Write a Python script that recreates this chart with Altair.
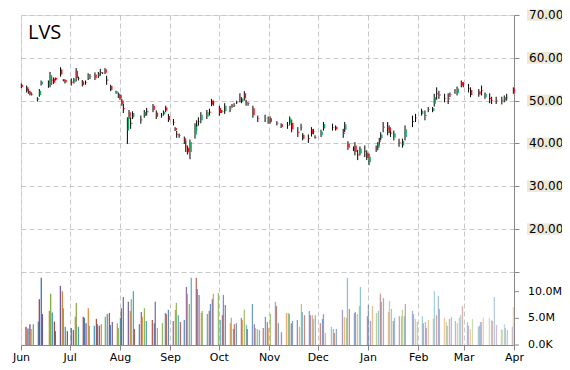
import altair as alt
import pandas as pd

# ---------------- data (days counted from 1 Jun) ----------------
c_day = [0.2, 3.5, 4.5, 5.5, 6.6, 10.1, 11.3, 12.4, 16.9, 17.9, 18.9, 20.0, 21.2, 24.4, 26.1, 27.1, 31.0, 32.6, 34.0, 35.4,
         37.8, 39.8, 41.4, 42.5, 45.6, 47.7, 48.9, 50.2, 51.8, 52.8, 55.3, 58.6, 60.0, 61.0, 62.2, 63.1, 65.6, 66.6, 67.6, 68.8,
         73.9, 76.0,
         77.5, 81.4, 83.4, 86.6, 87.8, 89.2, 90.9, 94.0, 95.0, 96.0, 97.5, 100.7, 101.6, 102.6, 104.2, 107.3, 108.3, 109.4, 110.9, 114.6,
         116.2, 117.5, 118.6, 122.3, 123.8, 125.6, 128.9, 130.1, 131.4, 133.0, 135.0, 136.0, 137.7, 138.8, 140.0, 143.0, 146.0, 150.5, 152.4,
         153.6, 157.8, 160.4, 164.3, 165.7, 166.9, 170.7, 172.7, 173.7, 177.2, 179.1, 180.3, 181.3, 185.0, 186.5, 192.1, 194.0, 198.7, 199.6, 201.6,
         205.0, 205.9, 207.6, 209.0, 212.0, 213.2, 214.6, 219.0, 220.0, 220.9, 221.8, 223.3, 226.1, 227.0, 227.8, 229.9,
         233.1, 235.2, 236.8, 241.4, 243.3, 247.0, 249.1, 251.1, 253.8, 254.8, 256.3, 257.7, 261.2, 263.4, 264.5, 267.6, 268.9, 271.5, 272.7, 276.0,
         277.2, 282.3, 284.0, 286.1, 289.0, 290.2, 293.0, 296.5, 298.0, 299.5, 303.6]
c_open = [53.7, 53.1, 52.2, 52.0, 51.5, 50.2, 51.3, 53.8, 53.4, 53.9, 54.9, 55.1, 55.3, 57.3, 54.8, 54.8, 54.4, 54.3, 57.0, 55.2,
          54.5, 54.2, 55.2, 55.7, 56.1, 55.7, 56.7, 56.5, 57.3, 54.9, 53.4, 51.7, 51.3, 51.3, 50.0, 48.2, 43.0, 47.3, 44.8, 46.1,
          45.6, 46.4,
          47.5, 48.8, 47.2, 46.6, 46.8, 48.4, 46.4, 45.0, 43.6, 42.2, 41.9, 41.2, 39.4, 39.0, 38.0, 42.0, 44.2, 45.2, 45.4, 46.2,
          47.4, 50.0, 49.5, 48.3, 47.5, 47.5, 48.1, 48.8, 49.0, 49.7, 50.7, 49.7, 51.7, 49.6, 49.3, 48.2, 45.8, 45.9, 45.0,
          45.9, 44.7, 44.5, 44.2, 44.7, 44.8, 42.7, 43.8, 42.0, 41.2, 43.3, 42.8, 41.5, 41.9, 43.5, 43.8, 43.9, 42.4, 43.2, 40.0,
          38.8, 39.5, 37.4, 37.7, 38.2, 37.8, 35.6, 38.8, 38.9, 40.5, 41.2, 43.9, 43.5, 43.8, 42.5, 41.3,
          40.2, 39.5, 41.5, 45.2, 46.0, 46.9, 46.6, 47.9, 47.6, 49.3, 51.7, 51.4, 50.6, 50.5, 51.4, 52.2, 51.7, 54.3, 53.7, 52.9,
          52.5, 52.2, 52.4, 50.8, 50.6, 50.1, 50.1, 50.0, 50.0, 50.8, 52.8]
c_high = [54.0, 53.5, 52.7, 52.3, 51.7, 50.8, 52.7, 54.7, 54.7, 56.7, 55.8, 55.4, 55.4, 57.8, 55.0, 55.0, 55.2, 55.3, 57.6, 55.6,
          54.8, 54.7, 56.4, 56.2, 56.6, 56.7, 57.4, 56.6, 57.6, 55.8, 53.7, 52.3, 51.9, 51.6, 50.4, 49.2, 46.1, 47.8, 46.1, 47.5,
          46.5, 47.8,
          48.3, 49.2, 47.7, 47.1, 47.7, 48.8, 46.9, 45.7, 43.8, 42.9, 42.3, 41.6, 40.7, 39.5, 40.9, 44.7, 45.4, 46.1, 47.3, 47.8,
          48.1, 50.4, 50.0, 48.8, 47.8, 49.4, 48.8, 49.2, 49.4, 50.0, 51.7, 50.8, 52.2, 50.2, 49.6, 48.8, 46.5, 46.7, 46.3,
          46.3, 45.2, 44.7, 45.0, 46.3, 45.5, 43.8, 44.6, 42.4, 42.1, 43.8, 43.4, 41.9, 43.2, 45.0, 44.6, 44.2, 43.4, 45.0, 40.5,
          39.3, 40.3, 38.5, 39.3, 39.5, 38.4, 37.6, 39.5, 40.3, 41.3, 42.6, 45.0, 45.0, 44.2, 43.4, 43.0,
          41.1, 41.1, 44.2, 46.5, 46.9, 48.1, 47.7, 48.5, 48.5, 51.6, 53.1, 52.3, 51.6, 51.7, 51.9, 52.7, 53.3, 54.7, 54.3, 53.9,
          53.1, 52.7, 53.5, 51.9, 51.7, 50.9, 50.9, 50.9, 51.2, 51.6, 53.1]
c_low = [52.9, 51.9, 51.6, 51.2, 51.2, 49.8, 50.9, 53.5, 53.0, 53.1, 53.7, 53.9, 54.7, 55.6, 54.5, 54.0, 53.5, 54.0, 54.5, 54.7,
         53.3, 53.7, 54.8, 55.0, 54.8, 55.3, 55.8, 56.2, 56.2, 53.7, 52.2, 51.6, 50.6, 50.2, 48.8, 47.1, 39.9, 45.7, 43.4, 45.7,
         44.6, 46.0,
         46.5, 47.3, 45.7, 46.0, 46.5, 47.3, 45.0, 44.2, 42.9, 41.3, 41.3, 39.9, 38.0, 37.4, 36.3, 41.1, 42.9, 44.2, 44.7, 45.7,
         46.5, 48.7, 48.8, 46.5, 47.1, 46.9, 47.3, 48.3, 48.5, 49.2, 49.6, 49.4, 50.0, 48.8, 48.8, 46.0, 45.0, 45.0, 44.6,
         44.6, 44.2, 43.6, 43.4, 44.2, 42.6, 41.5, 43.0, 40.7, 40.1, 41.6, 42.1, 41.1, 41.5, 43.0, 43.0, 43.0, 41.3, 42.6, 38.5,
         38.2, 37.2, 36.1, 37.2, 36.8, 36.1, 34.9, 38.0, 38.4, 39.5, 40.7, 42.6, 41.9, 42.4, 41.5, 40.7,
         39.2, 39.0, 40.7, 43.8, 45.0, 46.5, 45.4, 47.3, 47.3, 48.6, 50.2, 50.4, 49.6, 49.2, 50.8, 51.6, 51.2, 53.1, 53.1, 51.9,
         50.8, 50.9, 51.2, 50.4, 49.4, 49.2, 49.2, 49.1, 49.6, 50.0, 51.6]
c_close = [53.2, 52.3, 52.1, 51.5, 51.4, 50.5, 52.3, 54.4, 54.3, 56.0, 54.7, 54.2, 54.9, 56.1, 54.7, 54.3, 54.2, 55.0, 55.3, 55.1,
           53.6, 54.1, 56.0, 55.6, 55.2, 56.4, 56.5, 56.4, 56.5, 54.7, 52.5, 52.2, 51.2, 50.5, 49.2, 48.0, 46.0, 46.2, 44.6, 47.1,
           45.4, 47.4,
           47.3, 47.8, 46.2, 46.5, 47.4, 47.7, 45.4, 44.9, 43.1, 42.0, 41.8, 40.3, 39.2, 37.9, 40.3, 44.0, 44.0, 45.1, 46.7, 47.3,
           47.2, 49.1, 49.4, 47.1, 47.4, 48.8, 48.0, 48.7, 48.9, 49.6, 50.5, 50.5, 50.5, 49.5, 49.2, 46.6, 45.7, 45.8, 45.9,
           45.0, 44.6, 43.9, 44.1, 45.8, 43.3, 42.5, 43.7, 41.1, 41.0, 42.2, 42.7, 41.4, 42.8, 44.5, 43.7, 43.3, 42.2, 44.4, 39.0,
           38.7, 38.0, 37.2, 38.8, 38.0, 36.6, 36.9, 38.7, 39.8, 40.3, 42.1, 43.7, 43.3, 42.8, 42.3, 42.4,
           40.1, 40.6, 43.3, 45.0, 45.9, 47.6, 46.4, 47.8, 48.2, 50.8, 51.5, 51.2, 50.5, 50.3, 51.3, 52.1, 52.8, 53.5, 53.6, 52.8,
           51.3, 51.4, 52.3, 51.6, 50.4, 50.0, 50.0, 49.9, 50.8, 50.7, 51.9]

v_day = [3.1, 4.3, 5.5, 6.2, 7.6, 10.7, 11.3, 12.5, 13.2, 17.5, 18.3, 19.3, 20.6, 21.2, 24.3, 25.5, 26.1, 27.3, 28.6, 31.0,
         32.3, 33.5, 34.1, 35.4, 38.4, 39.1, 40.1, 41.5, 42.1, 45.2, 46.5, 47.1, 48.3, 49.5, 52.0, 53.2, 54.5, 55.1, 56.3, 59.4,
         60.0, 61.3, 61.9, 63.1, 66.2, 67.4, 68.0, 69.3, 69.9, 73.0, 74.2, 74.8, 76.1, 77.3, 81.0, 82.2, 82.8, 84.1, 87.2, 89.0,
         89.6, 90.9, 93.9, 95.2, 95.8, 97.0, 98.3, 100.7, 102.0, 102.6, 103.8, 105.0, 108.1, 108.7, 109.8, 111.2, 111.8, 114.9, 116.1, 116.8,
         118.0, 118.6, 121.7, 122.9, 124.2, 124.8, 126.0, 129.1, 129.7, 131.0, 131.6, 132.8, 135.9, 136.5, 137.7, 139.0, 139.6, 142.7, 143.9, 144.5,
         145.7, 147.0, 149.4, 150.7, 151.9, 152.5, 153.8, 156.9, 157.5, 158.7, 160.6, 163.7, 164.9, 165.5, 166.7, 167.4, 170.4, 171.7, 172.9, 173.5,
         174.8, 177.8, 178.5, 179.7, 180.3, 181.5, 184.6, 185.9, 186.5, 187.7, 191.4, 192.6, 193.3, 194.5, 198.2, 199.4, 200.7, 201.3, 202.5, 205.6,
         206.2, 207.4, 208.7, 209.3, 213.6, 214.2, 215.5, 216.7, 219.2, 220.4, 221.6, 222.2, 223.5, 226.6, 227.2, 228.4, 229.6, 230.3, 233.3, 234.6,
         235.2, 236.4, 237.0, 241.4, 242.0, 243.2, 244.4, 247.5, 248.1, 249.4, 250.0, 251.2, 254.3, 254.9, 256.2, 257.4, 258.0, 261.1, 262.3, 262.9,
         264.2, 265.4, 267.9, 269.1, 270.3, 271.0, 272.2, 275.3, 275.9, 277.1, 278.4, 282.0, 282.7, 283.3, 283.9, 285.1, 288.8, 290.1, 290.7, 291.9,
         293.2, 296.2, 296.8, 298.1, 298.7, 299.9, 303.0, 303.6]
v_vol = [3.4, 3.1, 3.9, 3.0, 3.9, 4.4, 8.6, 12.6, 5.8, 6.4, 9.6, 6.1, 4.4, 2.6, 11.1, 10.1, 6.9, 3.4, 2.6, 3.2,
         2.8, 5.3, 7.9, 3.4, 5.3, 5.1, 4.1, 6.9, 3.6, 3.6, 4.9, 3.9, 3.6, 3.9, 5.3, 5.8, 6.0, 3.75, 4.3, 4.1,
         3.2, 5.1, 6.9, 9.0, 8.1, 6.4, 8.6, 10.1, 3.0, 3.9, 6.2, 5.3, 6.9, 4.5, 4.7, 4.1, 8.1, 3.2, 4.1, 6.0,
         5.8, 6.6, 4.5, 6.6, 7.9, 5.6, 4.3, 4.7, 10.9, 9.6, 7.7, 12.6, 12.6, 10.5, 9.4, 6.0, 6.4, 5.8, 6.4, 7.7,
         8.6, 9.6, 9.75, 4.7, 5.6, 9.4, 7.5, 4.1, 5.1, 3.0, 3.9, 4.1, 5.1, 4.7, 6.6, 3.75, 3.0, 7.7, 3.9, 3.2,
         3.0, 2.8, 3.2, 5.3, 4.3, 3.2, 5.8, 8.1, 7.3, 4.1, 2.4, 6.0, 6.0, 5.8, 4.1, 4.5, 4.7, 3.4, 7.7, 6.2,
         5.6, 6.4, 5.6, 5.6, 4.9, 5.6, 4.1, 4.9, 5.8, 2.25, 3.4, 3.0, 2.25, 3.0, 6.6, 5.25, 5.1, 12.6, 6.75, 6.0,
         6.2, 5.8, 7.3, 10.9, 5.4, 7.5, 4.5, 7.3, 6.0, 6.4, 9.6, 8.1, 8.8, 6.2, 8.25, 6.75, 4.5, 5.1, 5.4, 5.4,
         6.6, 5.4, 7.7, 6.4, 5.8, 4.9, 4.3, 5.4, 4.1, 4.3, 3.2, 4.7, 4.9, 10.1, 5.6, 9.2, 6.75, 5.1, 4.3, 3.6,
         4.9, 5.25, 4.5, 4.1, 5.1, 5.6, 7.3, 4.3, 3.6, 3.0, 4.9, 3.4, 3.6, 4.3, 4.3, 5.1, 5.1, 4.7, 4.5, 9.0,
         3.75, 3.0, 2.8, 3.9, 3.2, 2.8, 3.4, 7.1]

month_day = [0, 30, 61, 92, 122, 153, 183, 214, 245, 273, 304]
month_lbl = ["Jun", "Jul", "Aug", "Sep", "Oct", "Nov", "Dec", "Jan", "Feb", "Mar", "Apr"]
price_ticks = [70, 60, 50, 40, 30, 20]
price_lbl = ["70.00", "60.00", "50.00", "40.00", "30.00", "20.00"]
vol_ticks = [10, 5, 0]
vol_lbl = ["10.0M", "5.0M", "0.0K"]
title_txt = ["LVS"]

# ---------------- layout / style ----------------
W, H = 493, 330
P_DOM = [-7.1, 70]
V_DOM = [0, 61.9]
GREEN, RED = "#10b060", "#ff1010"
GRID = "#c8c8c8"
AX = "#888888"
FONT = "DejaVu Sans"
palette = ["#a8402f", "#3a6fb0", "#6a4f9c", "#e07f2e", "#7ea83a", "#3596b5"]

candles = pd.DataFrame({"day": c_day, "o": c_open, "h": c_high, "l": c_low, "c": c_close})
vol = pd.DataFrame({"day": v_day, "v": v_vol})
vol["zero"] = 0.0
vol["col"] = [palette[i % len(palette)] for i in range(len(vol))]

label_expr = "".join(f"datum.value == {d} ? '{m}' : " for d, m in zip(month_day, month_lbl)) + "''"

xs = alt.Scale(domain=[0, 304], nice=False, zero=False)
x_axis = alt.Axis(values=month_day, labelExpr=label_expr, grid=True, gridColor=GRID, gridDash=[5, 3],
                  domainColor=AX, tickColor=AX, tickSize=5, labelFont=FONT, labelFontSize=11,
                  labelColor="#000000", labelFlush=False, labelPadding=1, title=None, labelOverlap=False)
X = alt.X("day:Q", scale=xs, axis=x_axis)
ps = alt.Scale(domain=P_DOM, nice=False, zero=False)
vs = alt.Scale(domain=V_DOM, nice=False, zero=False)

wick = alt.Chart(candles).mark_rule(color="black", strokeWidth=1).encode(
    x=X,
    y=alt.Y("l:Q", scale=ps, axis=alt.Axis(orient="right", values=[10, 20, 30, 40, 50, 60, 70], labels=False,
                                          grid=True, gridColor=GRID, gridDash=[5, 3], domainColor=AX,
                                          tickColor=AX, tickSize=5, title=None)),
    y2="h:Q",
)
body = alt.Chart(candles).mark_rule(strokeWidth=1.5, xOffset=1.1).encode(
    x=X,
    y=alt.Y("o:Q", scale=ps, axis=None),
    y2="c:Q",
    color=alt.condition("datum.c >= datum.o", alt.value(GREEN), alt.value(RED)),
)
bars = alt.Chart(vol).transform_calculate(op="1 - 0.66 * datum.day / 304").mark_rule(strokeWidth=1.3).encode(
    x=X,
    y=alt.Y("v:Q", scale=vs, axis=None),
    y2="zero:Q",
    color=alt.Color("col:N", scale=None),
    opacity=alt.Opacity("op:Q", scale=None),
)

plab = pd.DataFrame({"v": price_ticks, "t": price_lbl})
pbox = alt.Chart(plab).transform_calculate(top="datum.v + 1.37", bot="datum.v - 1.37").mark_rect(color="#ece9d8").encode(
    x=alt.value(W + 13), x2=alt.value(W + 48),
    y=alt.Y("top:Q", scale=ps, axis=None), y2="bot:Q",
)
ptxt = alt.Chart(plab).mark_text(align="left", baseline="middle", font=FONT, fontSize=12, color="#000000").encode(
    x=alt.value(W + 15), y=alt.Y("v:Q", scale=ps, axis=None), text="t:N",
)
vlab = pd.DataFrame({"v": vol_ticks, "t": vol_lbl})
vtick = alt.Chart(vlab).mark_rule(color=AX).encode(
    x=alt.value(W), x2=alt.value(W + 5), y=alt.Y("v:Q", scale=vs, axis=None),
)
vtxt = alt.Chart(vlab).mark_text(align="left", baseline="middle", font=FONT, fontSize=11, color="#000000").encode(
    x=alt.value(W + 14), y=alt.Y("v:Q", scale=vs, axis=None), text="t:N",
)
title = alt.Chart(pd.DataFrame({"t": title_txt})).mark_text(
    align="left", baseline="alphabetic", font="Open Sans", fontSize=20, color="#000000").encode(
    x=alt.value(7), y=alt.value(24), text="t:N",
)

chart = alt.layer(wick, body, bars, pbox, ptxt, vtick, vtxt, title).resolve_scale(
    y="independent"
).properties(
    width=W, height=H,
    autosize=alt.AutoSizeParams(type="none"),
    padding={"left": 13, "top": 7, "right": 48, "bottom": 21},
).configure_view(stroke=None).configure(background="white")

chart.save("out.html", embed_options={"renderer": "svg", "actions": False})
